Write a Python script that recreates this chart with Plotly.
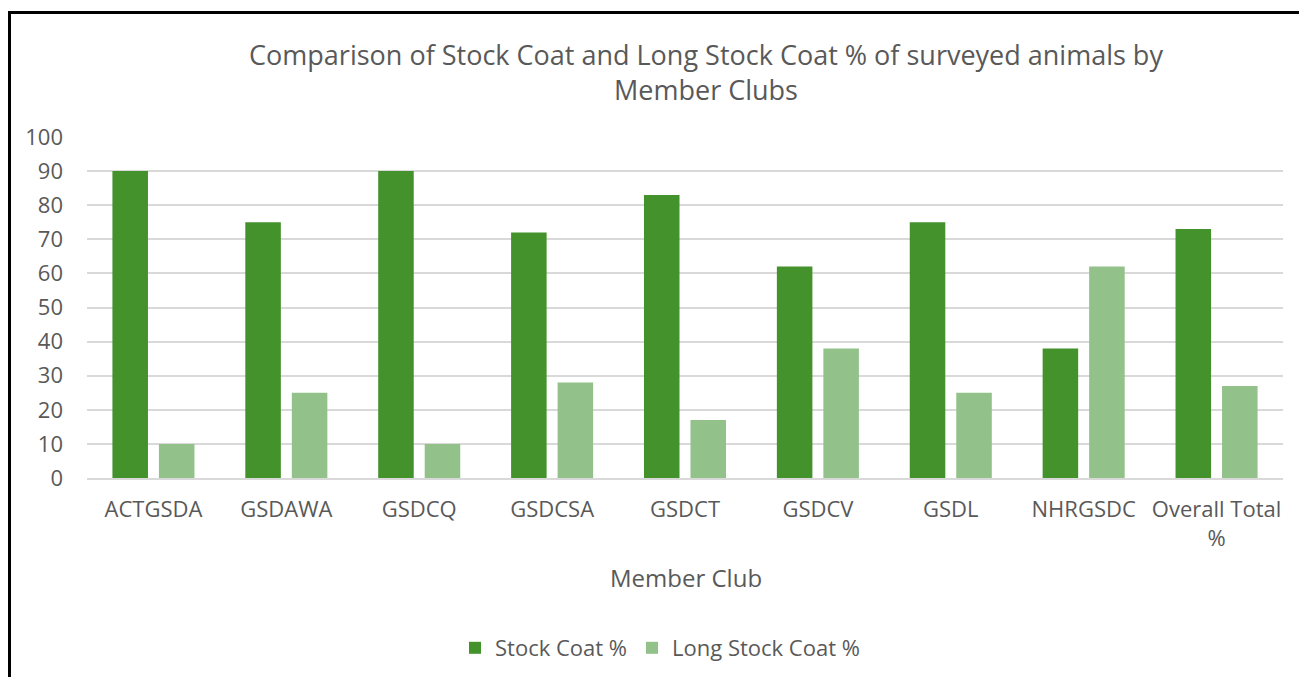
import plotly.graph_objects as go

categories = ["ACTGSDA", "GSDAWA", "GSDCQ", "GSDCSA", "GSDCT", "GSDCV", "GSDL", "NHRGSDC", "Overall Total<br>%"]
stock_coat = [90, 75, 90, 72, 83, 62, 75, 38, 73]
long_stock_coat = [10, 25, 10, 28, 17, 38, 25, 62, 27]
y_ticks = [0, 10, 20, 30, 40, 50, 60, 70, 80, 90, 100]

FONT = "Open Sans"
TXT = "#595959"

fig = go.Figure()
fig.add_trace(go.Bar(x=categories, y=stock_coat, name="Stock Coat %", marker_color="#43922B", marker_line_width=0))
fig.add_trace(go.Bar(x=categories, y=long_stock_coat, name="Long Stock Coat %", marker_color="#92C18A", marker_line_width=0))

fig.update_layout(
    width=1299, height=677,
    margin=dict(l=87, r=16, t=137, b=199, autoexpand=False),
    paper_bgcolor="white", plot_bgcolor="white",
    barmode="group", bargap=0.30, bargroupgap=0.236,
    font=dict(family=FONT, color=TXT, size=22),
    title=dict(text="Comparison of Stock Coat and Long Stock Coat % of surveyed animals by<br>Member Clubs",
               x=706 / 1299, xanchor="center", y=1 - 65 / 677, yanchor="middle",
               font=dict(size=27, color=TXT, family=FONT)),
    legend=dict(orientation="h", x=(660 - 87) / 1196, xanchor="center", y=(478 - 648) / 341, yanchor="middle",
                font=dict(size=22, color=TXT), itemwidth=30, traceorder="normal"),
    showlegend=True,
)
fig.update_yaxes(range=[0, 100], tickvals=y_ticks, showgrid=True, gridcolor="#D9D9D9", gridwidth=1.5,
                 zeroline=False, showline=False, ticks="", ticklabelstandoff=23, automargin=False,
                 tickfont=dict(size=22, color=TXT))
fig.update_xaxes(showline=True, linecolor="#D9D9D9", linewidth=1.5, ticks="", ticklabelstandoff=11,
                 automargin=False, tickfont=dict(size=22, color=TXT))

fig.add_annotation(text="Member Club", xref="paper", yref="paper", x=(686 - 87) / 1196, y=(478 - 577) / 341,
                   xanchor="center", yanchor="middle", showarrow=False, font=dict(size=24, color=TXT))

# outer frame
fig.add_shape(type="rect", xref="paper", yref="paper",
              x0=(9.5 - 87) / 1196, x1=(1400 - 87) / 1196,
              y0=(478 - 800) / 341, y1=(478 - 12.5) / 341,
              line=dict(color="black", width=3), fillcolor="rgba(0,0,0,0)", layer="above")

fig.write_html("out.html", config={"displayModeBar": False},
               post_script="document.body.style.margin='0';document.body.style.padding='0';")
